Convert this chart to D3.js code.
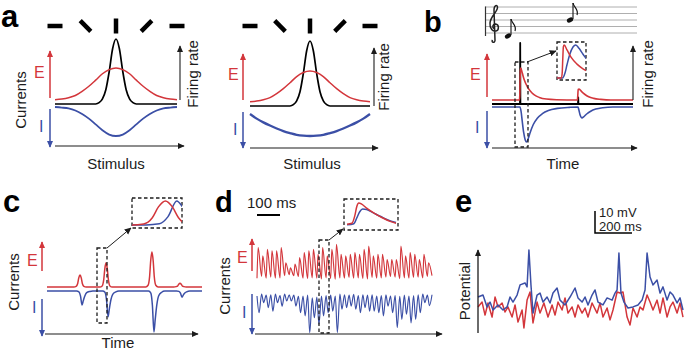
<!DOCTYPE html>
<html><head><meta charset="utf-8">
<script src="https://cdn.jsdelivr.net/npm/d3@7"></script>
<style>body{margin:0;background:#fff} svg{display:block;background:#fff}</style>
</head><body><svg id="fig" width="685" height="353"></svg>
<script>
// ---------------- DATA ----------------
// panel a: tuning curves vs stimulus orientation (deg)
const stimAngles = [-90,-80,-70,-60,-50,-40,-30,-20,-10,0,10,20,30,40,50,60,70,80,90];
const excTuning = [0.01,0.03,0.07,0.14,0.27,0.43,0.62,0.82,0.95,1,0.95,0.82,0.62,0.43,0.27,0.14,0.07,0.03,0.01];
const inhTuningCo = [0,0.02,0.05,0.12,0.24,0.4,0.6,0.8,0.95,1,0.95,0.8,0.6,0.4,0.24,0.12,0.05,0.02,0];
const inhTuningBroad = [0.24,0.4,0.53,0.64,0.74,0.83,0.9,0.96,0.99,1,0.99,0.96,0.9,0.83,0.74,0.64,0.53,0.4,0.24];
const rateAngles = [-90,-30,-25,-20,-15,-10,-5,0,5,10,15,20,25,30,90];
const rateTuning = [0,0,0.02,0.08,0.22,0.5,0.85,1,0.85,0.5,0.22,0.08,0.02,0,0];
const barAngles = [-90,-45,0,45,90];

// panel b: responses to two tones (ms)
const bTimeE = [0,136,138,139.5,141,143,150,160,175,190,210,235,270,320,424,425.5,428,432,445,460,480,505,540,590,700];
const bExc = [0,0,0.15,0.6,0.95,1,0.85,0.63,0.42,0.28,0.16,0.08,0.03,0.01,0,0.1,0.33,0.34,0.26,0.18,0.1,0.05,0.02,0,0];
const bTimeI = [0,139,145,150,157,165,172,180,190,205,225,250,280,325,385,427,431,437,447,455,470,490,515,550,600,700];
const bInh = [0,0,-0.15,-0.4,-0.72,-0.94,-1,-0.9,-0.72,-0.5,-0.32,-0.19,-0.1,-0.04,-0.01,0,-0.08,-0.22,-0.31,-0.28,-0.2,-0.12,-0.06,-0.02,0,0];
const bTimeR = [0,139,140,141,427,428,429,700];
const bRate = [0,0,1,0,0,0.11,0,0];

// panel c: transient co-activation (a.u. time)
const cTimeE = [0,173,188,198,205,213,221,228,238,253,341,356,366,373,381,389,396,406,421,637,652,662,669,677,685,692,702,717,818,833,843,850,858,866,873,883,898,1000];
const cExc = [0,0,.02,.1,.26,.34,.26,.1,.02,0,0,.03,.21,.52,.69,.52,.21,.03,0,0,.05,.3,.75,1,.75,.3,.05,0,0,.01,.03,.08,.11,.08,.03,.01,0,0];
const cTimeI = [0,191,206,216,226,234,244,256,276,296,359,374,384,394,402,412,424,444,464,655,670,680,690,698,708,720,740,760,836,851,861,871,879,889,901,921,1000];
const cInh = [0,0,-.02,-.12,-.34,-.24,-.12,-.04,-.01,0,0,-.03,-.22,-.63,-.44,-.22,-.08,-.02,0,0,-.05,-.35,-1,-.7,-.35,-.12,-.03,0,0,-.01,-.05,-.15,-.1,-.05,-.02,0,0];

// panel d: oscillatory currents, one cycle = 20 ms
const dCycle = 20;
const dExcPeaks = [.90,.67,.85,.81,.81,.90,.48,.34,.44,.62,.76,.81,.85,.71,.90,.67,.85,.99,.71,.67,.71,.76,.71,.85,.94,.67,.71,.71,.57,.57,.57,.94,.67,.76,.71,.57,.71,.48];
const dExcTroughs = [.05,.1,.05,.08,.05,.06,.12,.15,.12,.1,.05,.04,.06,.05,.03,.06,.04,.02,.06,.05,.07,.05,.06,.04,.03,.07,.05,.06,.08,.1,.08,.04,.06,.05,.07,.08,.06,.1,.12];
const dInhDips = [-.48,-.22,-.35,-.44,-.22,-.31,-.18,-.18,-.31,-.48,-.56,-.99,-.61,-.78,-.56,-.48,-.44,-.99,-.39,-.35,-.31,-.39,-.48,-.35,-.44,-.44,-.48,-.56,-.31,-.48,-.86,-.65,-.52,-.74,-.65,-.48,-.22,-.3];
const dInhTops = [-.05,0,-.03,-.02,0,-.04,0,-.02,-.03,-.06,-.05,-.03,-.1,-.08,-.05,-.04,-.03,-.05,0,-.02,-.03,-.01,-.04,-.02,-.03,-.02,-.05,-.04,-.02,-.05,-.04,-.06,-.03,-.05,-.04,-.02,0,-.03,-.02];
const dInsetTimeE = [0,5,8,10,12,15,20,28,36,44,50];
const dInsetExc = [.08,.12,.45,.85,1,.95,.78,.55,.36,.2,.12];
const dInsetTimeI = [0,7,10,13,16,20,27,35,43,50];
const dInsetInh = [.05,.1,.35,.62,.74,.72,.57,.4,.24,.15];

// panel e: membrane potential (ms, mV)
const eBlue = [[0,-54.1],[27,-53.2],[49,-58.6],[65,-56.4],[81,-60],[108,-57.7],[135,-60],[157,-58.6],[173,-54.1],[189,-56.4],[211,-53.2],[227,-48.6],[254,-47.7],[265,-49.5],[275,-32.7],[286,-48.6],[297,-61.4],[319,-53.2],[335,-52.3],[351,-56.4],[373,-54.1],[389,-56.8],[405,-52.3],[427,-50],[443,-55.5],[470,-57.7],[497,-54.1],[524,-50],[540,-54.5],[562,-56.4],[578,-54.1],[594,-57.7],[616,-53.2],[632,-50.9],[648,-56.4],[675,-57.7],[697,-54.5],[724,-55.5],[740,-52.3],[751,-50.9],[761,-34.1],[772,-52.3],[788,-56.4],[810,-59.1],[837,-58.6],[864,-57.7],[886,-55.5],[902,-50.9],[913,-34.1],[929,-45],[945,-48.6],[967,-46.4],[983,-52.3],[999,-49.5],[1021,-55.5],[1037,-51.8],[1053,-53.2],[1075,-56.8],[1091,-54.5],[1107,-60]];
const eRed = [[0,-58.6],[22,-56.4],[38,-62.3],[54,-56.8],[76,-63.2],[92,-54.1],[108,-58.6],[130,-56.8],[146,-60.9],[162,-58.6],[184,-63.2],[200,-57.7],[216,-65.5],[238,-60],[248,-68.2],[265,-55.5],[281,-51.8],[297,-65.9],[319,-56.4],[335,-61.4],[356,-56.8],[378,-63.2],[400,-57.7],[416,-62.3],[432,-56.4],[454,-60],[470,-54.5],[486,-61.4],[508,-58.6],[524,-63.2],[540,-57.7],[562,-61.4],[578,-59.1],[594,-63.2],[616,-56.8],[643,-61.4],[659,-56.8],[675,-63.2],[697,-59.1],[713,-64.5],[729,-60],[751,-51.8],[767,-52.3],[783,-51.8],[805,-63.2],[821,-66.8],[837,-59.1],[859,-63.2],[875,-58.6],[891,-60],[913,-53.2],[929,-56.4],[945,-60],[967,-55.5],[983,-61.4],[999,-54.5],[1021,-63.2],[1037,-58.6],[1053,-56.4],[1075,-61.4],[1091,-56.8],[1107,-63.2]];

// ---------------- DRAWING ----------------
const svg = d3.select("#fig");
const RED = "#d3363b", BLUE = "#3b4fa6", INK = "#1c1c1c";
const FONT = "'Liberation Sans', Arial, Helvetica, sans-serif";
const defs = svg.append("defs");
[["k",INK],["r",RED],["b",BLUE]].forEach(([id,c])=>{
  defs.append("marker").attr("id","ah-"+id).attr("viewBox","0 0 10 10")
    .attr("refX",9).attr("refY",5).attr("markerWidth",7).attr("markerHeight",7)
    .attr("markerUnits","userSpaceOnUse").attr("orient","auto")
    .append("path").attr("d","M0,0.5 L10,5 L0,9.5 Z").attr("fill",c);
});
function arrow(x1,y1,x2,y2,id,color,w){
  svg.append("line").attr("x1",x1).attr("y1",y1).attr("x2",x2).attr("y2",y2)
    .attr("stroke",color).attr("stroke-width",w||1.2).attr("marker-end",`url(#ah-${id})`);
}
function text(x,y,s,o){
  o=o||{};
  return svg.append("text").attr("x",0).attr("y",0)
    .attr("transform",`translate(${x},${y})`+(o.rot?` rotate(${o.rot})`:""))
    .attr("font-family",FONT).attr("font-size",o.size||15).attr("fill",o.color||INK)
    .attr("font-weight",o.weight||"normal").attr("text-anchor",o.anchor||"start").text(s);
}
function path(data, line, color, w, parent){
  return (parent||svg).append("path").datum(data).attr("d",line).attr("fill","none")
    .attr("stroke",color).attr("stroke-width",w).attr("stroke-linejoin","round");
}
function dashed(x,y,w,h){
  svg.append("rect").attr("x",x).attr("y",y).attr("width",w).attr("height",h)
    .attr("fill","none").attr("stroke",INK).attr("stroke-width",1.3).attr("stroke-dasharray","3.5,2.5");
}

// panel labels
text(1,27,"a",{size:31,weight:"bold",color:"#000"});
text(424,32,"b",{size:29,weight:"bold",color:"#000"});
text(3,212,"c",{size:31,weight:"bold",color:"#000"});
text(215,212,"d",{size:29,weight:"bold",color:"#000"});
text(455,212,"e",{size:31,weight:"bold",color:"#000"});

// ---- panel a ----
function tuning(x0,x1,yE0,yE1,yR0,yR1,yI0,yI1,inh,inhW){
  const x=d3.scaleLinear().domain([-90,90]).range([x0,x1]);
  const yE=d3.scaleLinear().domain([0,1]).range([yE0,yE1]);
  const yR=d3.scaleLinear().domain([0,1]).range([yR0,yR1]);
  const yI=d3.scaleLinear().domain([0,1]).range([yI0,yI1]);
  const lineE=d3.line().x((d,i)=>x(stimAngles[i])).y(d=>yE(d)).curve(d3.curveMonotoneX);
  const lineI=d3.line().x((d,i)=>x(stimAngles[i])).y(d=>yI(d)).curve(d3.curveMonotoneX);
  const lineR=d3.line().x((d,i)=>x(rateAngles[i])).y(d=>yR(d)).curve(d3.curveMonotoneX);
  path(inh,lineI,BLUE,inhW);
  path(rateTuning,lineR,"#000",1.7);
  path(excTuning,lineE,RED,1.5);
  barAngles.forEach(a=>{
    svg.append("line").attr("x1",-7.5).attr("x2",7.5).attr("y1",0).attr("y2",0)
      .attr("transform",`translate(${x(a)},26) rotate(${a+90})`)
      .attr("stroke","#000").attr("stroke-width",4.5);
  });
}
tuning(55,177,100,68,104,39,107,136,inhTuningCo,1.8);
tuning(250,370,102,71,106,41,107,136,inhTuningBroad,2.3);
arrow(55,146,184,146,"k",INK,1.1);
arrow(180,100,180,46,"k",INK,1.1);
arrow(50,98,50,51,"r",RED,1.5);
arrow(50,109,50,147,"b",BLUE,1.5);
arrow(250,148,378,148,"k",INK,1.1);
arrow(374,106,374,48,"k",INK,1.1);
arrow(243,100,243,54,"r",RED,1.5);
arrow(243,112,243,148,"b",BLUE,1.5);
text(26,100,"Currents",{rot:-90,anchor:"middle"});
text(34,78,"E",{size:16,color:RED});
text(39,132,"I",{size:16,color:BLUE});
text(228,80,"E",{size:16,color:RED});
text(233,135,"I",{size:16,color:BLUE});
text(198,74,"Firing rate",{rot:-90,anchor:"middle"});
text(389,77,"Firing rate",{rot:-90,anchor:"middle"});
text(116,169,"Stimulus",{anchor:"middle"});
text(312,169,"Stimulus",{anchor:"middle"});

// ---- panel b ----
{
  const x=d3.scaleLinear().domain([0,700]).range([492,633]);
  const yE=d3.scaleLinear().domain([0,1]).range([100,68]);
  const yI=d3.scaleLinear().domain([0,-1]).range([107,142]);
  const yR=d3.scaleLinear().domain([0,1]).range([104,43]);
  path(bInh,d3.line().x((d,i)=>x(bTimeI[i])).y(d=>yI(d)).curve(d3.curveMonotoneX),BLUE,1.6);
  path(bRate,d3.line().x((d,i)=>x(bTimeR[i])).y(d=>yR(d)),"#000",1.8);
  path(bExc,d3.line().x((d,i)=>x(bTimeE[i])).y(d=>yE(d)).curve(d3.curveMonotoneX),RED,1.6);
  const staffY=[7,13.5,20,26.5,33];
  staffY.forEach(y=>svg.append("line").attr("x1",485).attr("x2",637).attr("y1",y).attr("y2",y)
     .attr("stroke","#9a9a9a").attr("stroke-width",0.8));
  svg.append("line").attr("x1",485.5).attr("x2",485.5).attr("y1",6.5).attr("y2",36)
     .attr("stroke","#333").attr("stroke-width",1.2);
  svg.append("path").attr("transform","translate(488,3)")
     .attr("d","M4.5,37 C3,39.5 6.5,40.5 7,37.5 L6,7 C6,2 9.5,1 9.5,4.5 C9.5,9 2.5,13 2,20 C1.5,26 5,28.5 8,28 C11,27.5 11.5,21.5 7.5,21 C4.5,21 4,24.5 6,25.5")
     .attr("fill","none").attr("stroke","#222").attr("stroke-width",1.5);
  function note(cx,cy){
    svg.append("ellipse").attr("cx",cx).attr("cy",cy).attr("rx",3.3).attr("ry",2.3)
      .attr("transform",`rotate(-25,${cx},${cy})`).attr("fill","#111");
    svg.append("line").attr("x1",cx+3).attr("x2",cx+3).attr("y1",cy-1).attr("y2",cy-17)
      .attr("stroke","#111").attr("stroke-width",1.1);
    svg.append("path").attr("d",`M${cx+3},${cy-17} C${cx+4},${cy-12} ${cx+9},${cy-11} ${cx+7},${cy-5}`)
      .attr("fill","none").attr("stroke","#111").attr("stroke-width",1.2);
  }
  note(508,36); note(570,20);
  arrow(492,148,637,148,"k",INK,1.1);
  arrow(633,100,633,46,"k",INK,1.1);
  arrow(487,97,487,54,"r",RED,1.5);
  arrow(487,111,487,148,"b",BLUE,1.5);
  text(470,80,"E",{size:16,color:RED});
  text(475,133,"I",{size:16,color:BLUE});
  text(653,74,"Firing rate",{rot:-90,anchor:"middle"});
  text(563,169,"Time",{anchor:"middle"});
  dashed(515,62,13,85);
  dashed(557,42,29,38);
  arrow(527,62,556,51,"k",INK,1);
  defs.append("clipPath").attr("id","clipB").append("rect").attr("x",557).attr("y",42).attr("width",29).attr("height",38);
  const g=svg.append("g").attr("clip-path","url(#clipB)");
  const xi=d3.scaleLinear().domain([130,195]).range([559,585]);
  const yi=d3.scaleLinear().domain([0,1]).range([78,45]);
  path(bInh,d3.line().x((d,i)=>xi(bTimeI[i])).y(d=>yi(-d)).curve(d3.curveMonotoneX),BLUE,1.5,g);
  path(bExc,d3.line().x((d,i)=>xi(bTimeE[i])).y(d=>yi(d)).curve(d3.curveMonotoneX),RED,1.5,g);
}

// ---- panel c ----
{
  const x=d3.scaleLinear().domain([0,1000]).range([47,202]);
  const yE=d3.scaleLinear().domain([0,1]).range([287,252]);
  const yI=d3.scaleLinear().domain([0,-1]).range([291,332]);
  path(cInh,d3.line().x((d,i)=>x(cTimeI[i])).y(d=>yI(d)).curve(d3.curveMonotoneX),BLUE,1.5);
  path(cExc,d3.line().x((d,i)=>x(cTimeE[i])).y(d=>yE(d)).curve(d3.curveMonotoneX),RED,1.5);
  arrow(45,334,198,334,"k",INK,1.1);
  arrow(42,271,42,242,"r",RED,1.5);
  arrow(42,299,42,336,"b",BLUE,1.5);
  text(19,282,"Currents",{rot:-90,anchor:"middle"});
  text(27,266,"E",{size:16,color:RED});
  text(32,313,"I",{size:16,color:BLUE});
  text(118,348,"Time",{anchor:"middle"});
  dashed(97,248,10,75);
  dashed(132,198,50,30);
  arrow(107,248,131,228,"k",INK,1);
  defs.append("clipPath").attr("id","clipC").append("rect").attr("x",132).attr("y",198).attr("width",50).attr("height",30);
  const g=svg.append("g").attr("clip-path","url(#clipC)");
  const xi=d3.scaleLinear().domain([345,400]).range([134,182]);
  const yiE=d3.scaleLinear().domain([0,0.69]).range([225,201]);
  const yiI=d3.scaleLinear().domain([0,-0.63]).range([225,201]);
  path(cInh,d3.line().x((d,i)=>xi(cTimeI[i])).y(d=>yiI(d)).curve(d3.curveMonotoneX),BLUE,1.5,g);
  path(cExc,d3.line().x((d,i)=>xi(cTimeE[i])).y(d=>yiE(d)).curve(d3.curveMonotoneX),RED,1.5,g);
}

// ---- panel d ----
{
  const x=d3.scaleLinear().domain([0,760]).range([257,432]);
  const yE=d3.scaleLinear().domain([0,1]).range([280,244]);
  const yI=d3.scaleLinear().domain([0,-1]).range([294,333]);
  const redPts=[], bluePts=[];
  dExcPeaks.forEach((p,i)=>{ redPts.push([i*dCycle,dExcTroughs[i]]); redPts.push([i*dCycle+5,p]); });
  redPts.push([dExcPeaks.length*dCycle,dExcTroughs[dExcPeaks.length]]);
  dInhDips.forEach((p,i)=>{ bluePts.push([i*dCycle,dInhTops[i]]); bluePts.push([i*dCycle+9,p]); });
  bluePts.push([dInhDips.length*dCycle,dInhTops[dInhDips.length]]);
  path(redPts,d3.line().x(d=>x(d[0])).y(d=>yE(d[1])).curve(d3.curveMonotoneX),RED,1.15);
  path(bluePts,d3.line().x(d=>x(d[0])).y(d=>yI(d[1])).curve(d3.curveMonotoneX),BLUE,1.15);
  arrow(255,334,442,334,"k",INK,1.1);
  arrow(252,271,252,239,"r",RED,1.5);
  arrow(252,294,252,334,"b",BLUE,1.5);
  text(230,286,"Currents",{rot:-90,anchor:"middle"});
  text(237,263,"E",{size:16,color:RED});
  text(242,318,"I",{size:16,color:BLUE});
  text(247,208,"100 ms",{size:15});
  svg.append("line").attr("x1",x(0)).attr("x2",x(100)).attr("y1",215).attr("y2",215)
     .attr("stroke","#000").attr("stroke-width",2);
  dashed(319,240,10,93);
  dashed(344,199,54,31);
  arrow(329,240,343,229,"k",INK,1);
  const xi=d3.scaleLinear().domain([0,50]).range([347,396]);
  const yi=d3.scaleLinear().domain([0,1]).range([226,203]);
  path(dInsetInh,d3.line().x((d,i)=>xi(dInsetTimeI[i])).y(d=>yi(d)).curve(d3.curveMonotoneX),BLUE,1.5);
  path(dInsetExc,d3.line().x((d,i)=>xi(dInsetTimeE[i])).y(d=>yi(d)).curve(d3.curveMonotoneX),RED,1.5);
}

// ---- panel e ----
{
  const x=d3.scaleLinear().domain([0,1107]).range([478,683]);
  const y=d3.scaleLinear().domain([-70,-30]).range([332,244]);
  const ln=d3.line().x(d=>x(d[0])).y(d=>y(d[1]));
  path(eRed,ln,RED,1.5);
  path(eBlue,ln,BLUE,1.5);
  arrow(478,333,478,250,"k",INK,1.3);
  text(470,291,"Potential",{rot:-90,anchor:"middle"});
  const sx=595, sy=233;
  svg.append("path").attr("d",`M${sx},${y(-70+10)-y(-70)+sy} V${sy} H${sx+x(200)-x(0)}`)
     .attr("fill","none").attr("stroke","#000").attr("stroke-width",1.5);
  text(599,217,"10 mV",{size:13});
  text(599,231,"200 ms",{size:13});
}
</script></body></html>
